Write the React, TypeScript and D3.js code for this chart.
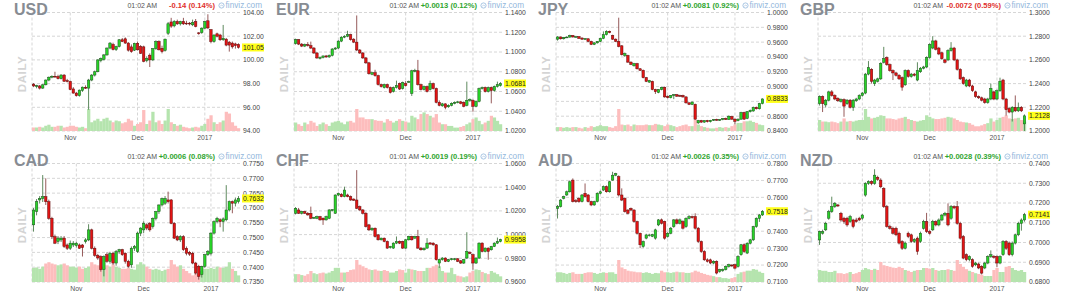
import React from "react";
import * as d3 from "d3";

type Bar = [number, number, number, number]; // open, high, low, close

const usdBars: Bar[] = [
  [97.95,98.05,97.70,97.80],[97.75,97.90,97.60,97.82],[97.80,97.88,97.50,97.62],[97.62,97.95,97.55,97.90],
  [97.90,98.35,97.85,98.30],[98.30,98.60,98.20,98.54],[98.54,98.70,98.45,98.62],[98.62,99.00,98.50,98.58],
  [98.60,98.75,98.35,98.42],[98.42,98.80,98.35,98.72],[98.72,98.80,98.15,98.20],[98.25,98.40,98.10,98.18],
  [98.18,98.25,97.45,97.50],[97.55,97.70,97.15,97.20],[97.20,97.30,96.90,96.98],[96.98,97.50,96.90,97.45],
  [97.42,97.75,97.30,97.70],[97.68,97.85,97.55,97.62],[97.62,98.40,95.80,98.30],[98.30,98.80,98.20,98.72],
  [98.72,99.10,98.60,99.00],[99.00,100.05,98.95,100.00],[99.95,100.20,99.80,100.12],[100.05,100.50,99.95,100.42],
  [100.42,101.05,100.35,101.00],[101.00,101.50,100.90,101.42],[101.30,101.45,100.80,100.88],[100.88,101.20,100.75,101.13],
  [101.13,101.75,101.05,101.70],[101.70,101.85,101.50,101.55],[101.78,101.90,101.35,101.42],[101.42,101.50,100.70,100.82],
  [101.10,101.30,100.60,100.70],[100.82,101.45,100.75,101.40],[101.40,101.55,100.80,100.85],[101.12,101.25,100.50,100.56],
  [101.10,101.20,99.80,99.88],[99.95,100.30,99.80,100.12],[100.40,100.55,99.40,100.00],[100.00,101.00,99.90,100.95],
  [100.95,101.65,100.85,101.55],[101.55,101.65,100.80,100.85],[100.98,101.20,100.55,100.70],[100.80,101.80,100.70,101.75],
  [102.25,103.20,102.10,103.05],[103.20,103.55,102.70,102.85],[102.87,103.35,102.75,103.24],[103.24,103.40,102.95,103.04],
  [103.04,103.30,102.90,103.24],[103.24,103.55,102.95,103.04],[103.10,103.30,102.95,103.04],[103.10,103.20,102.90,103.04],
  [102.96,103.40,102.85,103.15],[103.24,103.45,102.75,102.82],[102.28,102.35,102.12,102.22],[102.30,102.75,102.20,102.68],
  [102.68,103.30,102.60,103.24],[103.30,103.85,102.60,102.70],[102.55,102.60,101.40,101.55],[101.55,102.15,101.45,102.10],
  [102.20,102.30,101.90,102.00],[102.10,102.20,101.60,101.70],[101.70,102.95,101.60,101.83],[101.75,101.85,101.15,101.25],
  [101.50,101.60,100.70,101.25],[101.42,101.55,100.95,101.10],[101.35,101.45,100.95,101.20],[101.30,101.40,100.95,101.05],
];
const usdVolume = [10,10,12,10,15,18,12,12,15,15,10,12,15,15,12,10,12,8,63,25,30,35,28,35,38,30,25,30,28,22,25,35,30,15,20,25,60,20,30,55,25,30,20,30,63,25,20,15,18,12,10,8,10,12,10,15,20,35,45,25,20,25,30,55,50,25,15,8];

const eurBars: Bar[] = [
  [1.1085,1.1135,1.1075,1.1125],[1.1125,1.1130,1.1070,1.1080],[1.1080,1.1090,1.1050,1.1060],[1.1060,1.1085,1.1050,1.1075],
  [1.1075,1.1100,1.1055,1.1065],[1.1065,1.1105,1.1030,1.1040],[1.1040,1.1050,1.0980,1.0990],[1.0990,1.1000,1.0930,1.0940],
  [1.0935,1.0955,1.0925,1.0945],[1.0945,1.0965,1.0935,1.0960],[1.0960,1.0970,1.0940,1.0950],[1.0950,1.0975,1.0940,1.0965],
  [1.0965,1.1040,1.0955,1.1030],[1.1030,1.1050,1.1020,1.1040],[1.1040,1.1120,1.1030,1.1110],[1.1110,1.1160,1.1100,1.1150],
  [1.1150,1.1170,1.1140,1.1160],[1.1160,1.1215,1.1150,1.1175],[1.1175,1.1185,1.1115,1.1125],[1.1130,1.1140,1.1090,1.1100],
  [1.1100,1.1370,1.1010,1.1020],[1.1020,1.1030,1.0980,1.0990],[1.0990,1.1000,1.0930,1.0940],[1.0940,1.0950,1.0880,1.0890],
  [1.0890,1.0900,1.0770,1.0780],[1.0775,1.0800,1.0765,1.0790],[1.0790,1.0820,1.0750,1.0760],[1.0760,1.0770,1.0660,1.0670],
  [1.0670,1.0680,1.0640,1.0650],[1.0640,1.0680,1.0630,1.0670],[1.0670,1.0680,1.0630,1.0640],[1.0640,1.0650,1.0580,1.0590],
  [1.0600,1.0650,1.0590,1.0640],[1.0640,1.0710,1.0630,1.0660],[1.0680,1.0690,1.0615,1.0625],[1.0630,1.0700,1.0620,1.0690],
  [1.0680,1.0705,1.0650,1.0660],[1.0695,1.0710,1.0690,1.0700],[1.0580,1.0820,1.0555,1.0810],[1.0805,1.0830,1.0795,1.0815],
  [1.0810,1.0920,1.0660,1.0670],[1.0670,1.0680,1.0610,1.0620],[1.0620,1.0660,1.0610,1.0650],[1.0650,1.0660,1.0590,1.0600],
  [1.0620,1.0710,1.0610,1.0680],[1.0680,1.0690,1.0620,1.0630],[1.0630,1.0640,1.0480,1.0490],[1.0490,1.0510,1.0450,1.0460],
  [1.0455,1.0485,1.0445,1.0475],[1.0475,1.0480,1.0420,1.0440],[1.0445,1.0470,1.0435,1.0460],[1.0460,1.0490,1.0450,1.0480],
  [1.0480,1.0500,1.0470,1.0490],[1.0490,1.0505,1.0480,1.0495],[1.0495,1.0505,1.0470,1.0480],[1.0490,1.0500,1.0440,1.0450],
  [1.0460,1.0700,1.0450,1.0510],[1.0510,1.0530,1.0495,1.0520],[1.0510,1.0520,1.0395,1.0450],[1.0450,1.0510,1.0440,1.0500],
  [1.0500,1.0640,1.0490,1.0630],[1.0630,1.0650,1.0620,1.0640],[1.0640,1.0650,1.0590,1.0600],[1.0600,1.0650,1.0590,1.0640],
  [1.0640,1.0650,1.0480,1.0610],[1.0610,1.0660,1.0600,1.0650],[1.0650,1.0700,1.0640,1.0670],[1.0660,1.0695,1.0650,1.0681],
];
const eurVolume = [25,20,15,25,20,30,25,15,20,25,20,15,25,28,30,25,20,28,30,25,65,40,40,35,35,35,32,30,30,25,35,30,25,30,35,30,28,25,45,40,35,50,55,50,45,40,50,25,20,20,15,15,10,10,12,15,20,25,35,40,30,20,25,30,45,40,30,20];

const jpyBars: Bar[] = [
  [0.9640,0.9680,0.9620,0.9670],[0.9670,0.9675,0.9635,0.9645],[0.9645,0.9670,0.9635,0.9665],[0.9665,0.9680,0.9655,0.9668],
  [0.9668,0.9700,0.9660,0.9690],[0.9690,0.9695,0.9660,0.9670],[0.9670,0.9685,0.9660,0.9675],[0.9675,0.9680,0.9645,0.9650],
  [0.9655,0.9665,0.9630,0.9640],[0.9640,0.9655,0.9630,0.9648],[0.9645,0.9650,0.9600,0.9610],[0.9610,0.9620,0.9560,0.9570],
  [0.9570,0.9600,0.9560,0.9590],[0.9590,0.9615,0.9580,0.9610],[0.9610,0.9660,0.9600,0.9650],[0.9650,0.9745,0.9640,0.9700],
  [0.9700,0.9760,0.9690,0.9745],[0.9745,0.9755,0.9720,0.9730],[0.9690,0.9700,0.9630,0.9640],[0.9640,0.9650,0.9600,0.9610],
  [0.9610,0.9930,0.9530,0.9540],[0.9550,0.9560,0.9420,0.9430],[0.9420,0.9460,0.9400,0.9445],[0.9420,0.9430,0.9320,0.9330],
  [0.9330,0.9340,0.9290,0.9300],[0.9280,0.9320,0.9270,0.9310],[0.9310,0.9320,0.9230,0.9240],[0.9240,0.9250,0.9210,0.9220],
  [0.9220,0.9230,0.9110,0.9120],[0.9120,0.9130,0.9060,0.9070],[0.9060,0.9090,0.9050,0.9080],[0.9070,0.9080,0.8950,0.8960],
  [0.8960,0.8970,0.8900,0.8930],[0.8920,0.8965,0.8910,0.8960],[0.8960,0.8995,0.8950,0.8990],[0.8990,0.9000,0.8850,0.8860],
  [0.8870,0.8880,0.8840,0.8850],[0.8850,0.8885,0.8840,0.8880],[0.8880,0.8900,0.8830,0.8890],[0.8890,0.8900,0.8860,0.8870],
  [0.8880,0.8890,0.8860,0.8870],[0.8880,0.8890,0.8850,0.8860],[0.8860,0.8870,0.8770,0.8780],[0.8780,0.8790,0.8750,0.8760],
  [0.8760,0.8800,0.8750,0.8790],[0.8760,0.8770,0.8550,0.8560],[0.8510,0.8550,0.8495,0.8540],[0.8540,0.8550,0.8510,0.8520],
  [0.8520,0.8545,0.8510,0.8540],[0.8540,0.8550,0.8515,0.8525],[0.8525,0.8550,0.8515,0.8545],[0.8545,0.8560,0.8535,0.8555],
  [0.8555,0.8565,0.8540,0.8545],[0.8545,0.8560,0.8535,0.8555],[0.8555,0.8575,0.8545,0.8570],[0.8570,0.8580,0.8550,0.8555],
  [0.8555,0.8610,0.8550,0.8600],[0.8595,0.8605,0.8550,0.8560],[0.8560,0.8570,0.8490,0.8530],[0.8540,0.8570,0.8530,0.8560],
  [0.8560,0.8660,0.8550,0.8650],[0.8650,0.8660,0.8550,0.8560],[0.8570,0.8670,0.8560,0.8660],[0.8660,0.8690,0.8650,0.8680],
  [0.8670,0.8730,0.8660,0.8720],[0.8720,0.8730,0.8690,0.8700],[0.8700,0.8780,0.8690,0.8770],[0.8770,0.8840,0.8760,0.8833],
];
const jpyVolume = [12,12,10,12,10,12,12,10,8,12,10,15,12,15,18,15,15,12,10,15,68,20,18,20,15,20,18,18,18,20,18,18,22,20,18,15,20,18,15,12,15,18,20,15,15,35,20,15,12,10,8,8,10,12,10,12,10,15,20,25,25,30,30,32,28,25,20,18];

const gbpBars: Bar[] = [
  [1.2230,1.2300,1.2215,1.2290],[1.2290,1.2300,1.2160,1.2230],[1.2220,1.2270,1.2200,1.2260],[1.2260,1.2340,1.2250,1.2330],
  [1.2330,1.2345,1.2290,1.2300],[1.2300,1.2310,1.2260,1.2270],[1.2275,1.2285,1.2245,1.2255],[1.2250,1.2275,1.2240,1.2265],
  [1.2265,1.2275,1.2120,1.2210],[1.2230,1.2270,1.2220,1.2260],[1.2260,1.2270,1.2190,1.2200],[1.2200,1.2270,1.2170,1.2260],
  [1.2255,1.2280,1.2245,1.2270],[1.2270,1.2310,1.2260,1.2300],[1.2300,1.2330,1.2290,1.2320],[1.2320,1.2490,1.2310,1.2480],
  [1.2480,1.2590,1.2470,1.2535],[1.2520,1.2530,1.2400,1.2420],[1.2400,1.2440,1.2380,1.2430],[1.2420,1.2450,1.2410,1.2440],
  [1.2440,1.2580,1.2430,1.2570],[1.2580,1.2710,1.2570,1.2610],[1.2620,1.2630,1.2550,1.2560],[1.2560,1.2570,1.2500,1.2510],
  [1.2510,1.2520,1.2430,1.2490],[1.2490,1.2500,1.2460,1.2470],[1.2470,1.2480,1.2430,1.2440],[1.2450,1.2460,1.2340,1.2370],
  [1.2390,1.2520,1.2380,1.2510],[1.2510,1.2520,1.2450,1.2460],[1.2460,1.2490,1.2450,1.2480],[1.2480,1.2490,1.2460,1.2470],
  [1.2430,1.2580,1.2420,1.2510],[1.2500,1.2540,1.2490,1.2530],[1.2530,1.2550,1.2520,1.2540],[1.2540,1.2630,1.2530,1.2620],
  [1.2620,1.2740,1.2610,1.2730],[1.2700,1.2800,1.2690,1.2760],[1.2760,1.2770,1.2680,1.2690],[1.2700,1.2710,1.2640,1.2650],
  [1.2660,1.2670,1.2600,1.2610],[1.2600,1.2610,1.2570,1.2580],[1.2600,1.2690,1.2590,1.2680],[1.2680,1.2750,1.2670,1.2700],
  [1.2700,1.2710,1.2590,1.2600],[1.2600,1.2610,1.2510,1.2520],[1.2520,1.2530,1.2430,1.2440],[1.2450,1.2460,1.2390,1.2400],
  [1.2380,1.2440,1.2370,1.2430],[1.2430,1.2440,1.2370,1.2380],[1.2380,1.2390,1.2330,1.2340],[1.2330,1.2340,1.2280,1.2290],
  [1.2290,1.2300,1.2270,1.2280],[1.2280,1.2290,1.2250,1.2260],[1.2270,1.2280,1.2230,1.2240],[1.2240,1.2280,1.2230,1.2270],
  [1.2270,1.2400,1.2260,1.2360],[1.2330,1.2340,1.2260,1.2270],[1.2270,1.2350,1.2260,1.2340],[1.2340,1.2450,1.2330,1.2420],
  [1.2430,1.2440,1.2260,1.2270],[1.2270,1.2280,1.2130,1.2180],[1.2190,1.2200,1.2150,1.2160],[1.2160,1.2210,1.2080,1.2200],
  [1.2200,1.2300,1.2160,1.2170],[1.2170,1.2240,1.2160,1.2200],[1.2200,1.2210,1.2160,1.2170],[1.2060,1.2140,1.2000,1.2128],
];
const gbpVolume = [35,30,30,28,30,28,25,30,40,30,32,30,33,35,35,70,45,40,42,45,50,48,40,40,38,36,40,42,45,38,35,32,30,33,35,50,45,40,38,38,40,42,45,43,40,35,30,28,27,25,20,15,15,18,22,25,40,30,35,42,45,50,40,38,40,42,35,30];

const cadBars: Bar[] = [
  [0.7543,0.7600,0.7520,0.7593],[0.7588,0.7630,0.7575,0.7621],[0.7627,0.7640,0.7615,0.7632],[0.7632,0.7711,0.7620,0.7638],
  [0.7638,0.7700,0.7610,0.7621],[0.7621,0.7628,0.7560,0.7565],[0.7565,0.7570,0.7495,0.7503],[0.7503,0.7510,0.7478,0.7481],
  [0.7487,0.7505,0.7478,0.7498],[0.7492,0.7505,0.7485,0.7498],[0.7498,0.7505,0.7465,0.7470],[0.7475,0.7480,0.7458,0.7464],
  [0.7464,0.7490,0.7458,0.7481],[0.7475,0.7488,0.7468,0.7481],[0.7473,0.7486,0.7466,0.7481],[0.7475,0.7480,0.7462,0.7464],
  [0.7475,0.7478,0.7436,0.7466],[0.7487,0.7498,0.7480,0.7492],[0.7492,0.7545,0.7488,0.7526],[0.7526,0.7530,0.7460,0.7464],
  [0.7464,0.7470,0.7435,0.7440],[0.7440,0.7445,0.7425,0.7431],[0.7436,0.7440,0.7385,0.7392],[0.7392,0.7440,0.7369,0.7436],
  [0.7442,0.7450,0.7415,0.7420],[0.7420,0.7452,0.7412,0.7447],[0.7447,0.7452,0.7408,0.7414],[0.7414,0.7458,0.7405,0.7453],
  [0.7453,0.7462,0.7445,0.7459],[0.7459,0.7462,0.7438,0.7442],[0.7447,0.7450,0.7412,0.7420],[0.7420,0.7425,0.7398,0.7403],
  [0.7408,0.7470,0.7398,0.7464],[0.7464,0.7475,0.7455,0.7470],[0.7453,0.7520,0.7448,0.7515],[0.7515,0.7535,0.7505,0.7532],
  [0.7526,0.7555,0.7515,0.7548],[0.7543,0.7548,0.7525,0.7532],[0.7548,0.7552,0.7520,0.7526],[0.7537,0.7568,0.7530,0.7565],
  [0.7565,0.7590,0.7558,0.7588],[0.7588,0.7612,0.7580,0.7610],[0.7610,0.7635,0.7605,0.7632],[0.7616,0.7640,0.7610,0.7632],
  [0.7627,0.7655,0.7615,0.7621],[0.7627,0.7630,0.7545,0.7548],[0.7548,0.7552,0.7495,0.7498],[0.7503,0.7508,0.7488,0.7492],
  [0.7492,0.7508,0.7485,0.7503],[0.7503,0.7508,0.7455,0.7459],[0.7464,0.7470,0.7440,0.7447],[0.7450,0.7455,0.7438,0.7444],
  [0.7447,0.7452,0.7410,0.7414],[0.7414,0.7418,0.7375,0.7380],[0.7403,0.7408,0.7358,0.7369],[0.7375,0.7405,0.7365,0.7403],
  [0.7403,0.7445,0.7398,0.7442],[0.7442,0.7458,0.7438,0.7453],[0.7447,0.7518,0.7440,0.7515],[0.7515,0.7558,0.7510,0.7554],
  [0.7554,0.7570,0.7548,0.7565],[0.7560,0.7565,0.7535,0.7554],[0.7554,0.7568,0.7520,0.7563],[0.7560,0.7677,0.7555,0.7593],
  [0.7593,0.7625,0.7588,0.7621],[0.7621,0.7625,0.7582,0.7616],[0.7616,0.7635,0.7605,0.7627],[0.7621,0.7640,0.7615,0.7632],
];
const cadVolume = [32,33,30,35,42,45,42,40,38,40,42,38,35,35,33,35,30,32,35,45,40,38,35,33,38,35,40,35,32,30,30,32,30,28,40,45,40,35,30,28,30,28,25,28,30,50,40,35,38,30,25,20,15,18,20,25,30,30,32,30,35,33,32,35,45,30,25,15];

const chfBars: Bar[] = [
  [1.0180,1.0232,1.0170,1.0222],[1.0208,1.0225,1.0175,1.0180],[1.0180,1.0200,1.0170,1.0194],[1.0194,1.0200,1.0175,1.0180],
  [1.0180,1.0190,1.0160,1.0166],[1.0180,1.0236,1.0130,1.0138],[1.0140,1.0150,1.0132,1.0145],[1.0138,1.0160,1.0130,1.0152],
  [1.0152,1.0158,1.0118,1.0124],[1.0138,1.0145,1.0082,1.0124],[1.0124,1.0160,1.0118,1.0152],[1.0138,1.0215,1.0130,1.0208],
  [1.0208,1.0215,1.0195,1.0210],[1.0180,1.0340,1.0175,1.0334],[1.0334,1.0355,1.0325,1.0348],[1.0340,1.0350,1.0315,1.0320],
  [1.0320,1.0404,1.0315,1.0376],[1.0334,1.0345,1.0315,1.0320],[1.0320,1.0330,1.0285,1.0292],[1.0300,1.0305,1.0285,1.0290],
  [1.0292,1.0544,1.0215,1.0222],[1.0236,1.0245,1.0200,1.0208],[1.0208,1.0215,1.0170,1.0180],[1.0180,1.0190,1.0060,1.0068],
  [1.0082,1.0090,1.0030,1.0040],[1.0040,1.0060,1.0030,1.0054],[1.0054,1.0060,0.9975,0.9984],[0.9998,1.0005,0.9950,0.9956],
  [0.9956,0.9975,0.9950,0.9970],[0.9970,0.9975,0.9935,0.9942],[0.9942,0.9950,0.9880,0.9886],[0.9890,0.9905,0.9882,0.9900],
  [0.9886,0.9935,0.9880,0.9928],[0.9928,0.9984,0.9920,0.9942],[0.9942,0.9950,0.9920,0.9928],[0.9942,0.9948,0.9880,0.9886],
  [0.9886,0.9962,0.9880,0.9956],[0.9956,0.9990,0.9950,0.9984],[0.9984,0.9990,0.9950,0.9956],[0.9970,0.9990,0.9965,0.9984],
  [0.9984,1.0040,0.9880,0.9886],[0.9886,0.9895,0.9865,0.9872],[0.9872,0.9890,0.9865,0.9886],[0.9886,0.9970,0.9880,0.9928],
  [0.9930,0.9935,0.9915,0.9920],[0.9928,0.9935,0.9905,0.9914],[0.9914,0.9920,0.9780,0.9788],[0.9760,0.9795,0.9718,0.9788],
  [0.9788,0.9810,0.9780,0.9802],[0.9802,0.9808,0.9768,0.9774],[0.9774,0.9795,0.9768,0.9788],[0.9788,0.9802,0.9782,0.9796],
  [0.9788,0.9802,0.9782,0.9796],[0.9796,0.9800,0.9768,0.9774],[0.9779,0.9785,0.9752,0.9760],[0.9760,0.9795,0.9752,0.9788],
  [0.9802,1.0020,0.9795,0.9858],[0.9850,0.9860,0.9835,0.9840],[0.9830,0.9840,0.9704,0.9760],[0.9760,0.9808,0.9752,0.9802],
  [0.9802,0.9935,0.9795,0.9928],[0.9928,0.9935,0.9850,0.9858],[0.9858,0.9892,0.9850,0.9886],[0.9886,0.9892,0.9788,0.9858],
  [0.9872,0.9905,0.9865,0.9900],[0.9900,0.9935,0.9895,0.9928],[0.9928,0.9975,0.9920,0.9942],[0.9942,0.9965,0.9935,0.9958],
];
const chfVolume = [25,25,22,20,25,35,28,25,28,30,27,30,35,45,45,30,30,32,38,40,70,55,50,45,40,38,40,36,35,38,35,30,30,35,40,38,30,42,40,38,35,35,35,45,45,50,55,50,35,30,30,45,25,20,18,15,18,30,35,40,38,32,28,25,35,30,25,18];

const audBars: Bar[] = [
  [0.7535,0.7555,0.7475,0.7545],[0.7545,0.7590,0.7540,0.7584],[0.7594,0.7610,0.7588,0.7604],[0.7614,0.7640,0.7608,0.7633],
  [0.7633,0.7700,0.7628,0.7692],[0.7702,0.7712,0.7570,0.7575],[0.7580,0.7590,0.7568,0.7575],[0.7594,0.7600,0.7568,0.7575],
  [0.7575,0.7620,0.7570,0.7614],[0.7624,0.7682,0.7598,0.7604],[0.7614,0.7620,0.7570,0.7575],[0.7575,0.7580,0.7548,0.7555],
  [0.7555,0.7580,0.7550,0.7575],[0.7575,0.7630,0.7570,0.7624],[0.7624,0.7640,0.7618,0.7633],[0.7643,0.7670,0.7638,0.7663],
  [0.7663,0.7670,0.7628,0.7633],[0.7633,0.7698,0.7628,0.7692],[0.7702,0.7751,0.7698,0.7731],[0.7731,0.7745,0.7725,0.7740],
  [0.7722,0.7730,0.7605,0.7614],[0.7614,0.7653,0.7578,0.7584],[0.7594,0.7600,0.7510,0.7516],[0.7525,0.7530,0.7500,0.7506],
  [0.7535,0.7540,0.7518,0.7525],[0.7525,0.7530,0.7450,0.7457],[0.7457,0.7462,0.7380,0.7388],[0.7388,0.7392,0.7300,0.7320],
  [0.7310,0.7345,0.7302,0.7339],[0.7359,0.7385,0.7352,0.7378],[0.7374,0.7385,0.7368,0.7378],[0.7370,0.7385,0.7365,0.7380],
  [0.7359,0.7415,0.7350,0.7408],[0.7437,0.7472,0.7430,0.7467],[0.7467,0.7475,0.7440,0.7447],[0.7457,0.7462,0.7350,0.7359],
  [0.7369,0.7395,0.7362,0.7388],[0.7388,0.7425,0.7382,0.7418],[0.7427,0.7472,0.7420,0.7467],[0.7467,0.7475,0.7440,0.7447],
  [0.7447,0.7475,0.7440,0.7467],[0.7457,0.7465,0.7410,0.7418],[0.7427,0.7482,0.7420,0.7476],[0.7476,0.7495,0.7470,0.7486],
  [0.7486,0.7492,0.7474,0.7480],[0.7486,0.7506,0.7410,0.7418],[0.7418,0.7425,0.7330,0.7339],[0.7339,0.7345,0.7272,0.7280],
  [0.7280,0.7288,0.7225,0.7231],[0.7231,0.7240,0.7215,0.7222],[0.7231,0.7238,0.7205,0.7212],[0.7212,0.7228,0.7205,0.7222],
  [0.7222,0.7228,0.7145,0.7153],[0.7163,0.7178,0.7155,0.7173],[0.7167,0.7180,0.7160,0.7173],[0.7173,0.7198,0.7168,0.7192],
  [0.7192,0.7208,0.7185,0.7202],[0.7200,0.7205,0.7188,0.7195],[0.7202,0.7208,0.7175,0.7182],[0.7192,0.7258,0.7185,0.7251],
  [0.7261,0.7325,0.7255,0.7320],[0.7320,0.7328,0.7272,0.7280],[0.7271,0.7335,0.7265,0.7329],[0.7329,0.7355,0.7322,0.7349],
  [0.7349,0.7432,0.7342,0.7427],[0.7427,0.7482,0.7420,0.7476],[0.7476,0.7502,0.7455,0.7496],[0.7496,0.7525,0.7490,0.7518],
];
const audVolume = [30,30,28,25,28,30,25,25,25,28,30,30,28,25,28,30,28,30,30,25,68,45,40,35,33,32,30,30,28,30,28,25,28,27,35,30,30,28,30,32,30,30,28,28,30,35,32,28,25,22,20,18,15,15,12,12,10,12,15,25,30,32,35,35,40,38,32,28];

const nzdBars: Bar[] = [
  [0.7013,0.7060,0.6988,0.7055],[0.7047,0.7065,0.7040,0.7055],[0.7064,0.7105,0.7058,0.7097],[0.7123,0.7165,0.7115,0.7156],
  [0.7156,0.7232,0.7150,0.7182],[0.7182,0.7205,0.7175,0.7198],[0.7190,0.7195,0.7180,0.7185],[0.7148,0.7155,0.7105,0.7114],
  [0.7123,0.7130,0.7095,0.7106],[0.7123,0.7130,0.7080,0.7089],[0.7106,0.7140,0.7100,0.7131],[0.7114,0.7120,0.7072,0.7081],
  [0.7114,0.7125,0.7100,0.7106],[0.7123,0.7130,0.7108,0.7114],[0.7123,0.7145,0.7115,0.7139],[0.7240,0.7305,0.7232,0.7299],
  [0.7299,0.7315,0.7292,0.7308],[0.7308,0.7315,0.7290,0.7299],[0.7299,0.7371,0.7292,0.7341],[0.7330,0.7338,0.7312,0.7320],
  [0.7316,0.7325,0.7275,0.7282],[0.7274,0.7280,0.7175,0.7182],[0.7182,0.7190,0.7075,0.7081],[0.7081,0.7090,0.7065,0.7072],
  [0.7072,0.7080,0.7040,0.7047],[0.7072,0.7080,0.7032,0.7039],[0.7047,0.7055,0.6990,0.6997],[0.7005,0.7012,0.6962,0.6971],
  [0.6971,0.7005,0.6965,0.6997],[0.7047,0.7055,0.7022,0.7030],[0.7039,0.7045,0.6998,0.7005],[0.7005,0.7022,0.6998,0.7015],
  [0.7022,0.7030,0.6938,0.6955],[0.7005,0.7055,0.6998,0.7047],[0.7072,0.7115,0.7065,0.7106],[0.7106,0.7150,0.7048,0.7055],
  [0.7055,0.7062,0.7040,0.7047],[0.7064,0.7115,0.7058,0.7106],[0.7106,0.7112,0.7082,0.7089],[0.7089,0.7122,0.7082,0.7114],
  [0.7114,0.7145,0.7108,0.7139],[0.7139,0.7155,0.7132,0.7148],[0.7148,0.7198,0.7082,0.7089],[0.7123,0.7190,0.7115,0.7182],
  [0.7182,0.7188,0.7168,0.7175],[0.7182,0.7210,0.7090,0.7097],[0.7097,0.7105,0.7015,0.7022],[0.7030,0.7038,0.6915,0.6921],
  [0.6938,0.6945,0.6905,0.6913],[0.6913,0.6935,0.6905,0.6929],[0.6913,0.6920,0.6872,0.6879],[0.6887,0.6902,0.6880,0.6896],
  [0.6891,0.6898,0.6865,0.6871],[0.6879,0.6885,0.6838,0.6845],[0.6871,0.6902,0.6865,0.6896],[0.6896,0.6935,0.6890,0.6929],
  [0.6929,0.6960,0.6922,0.6938],[0.6930,0.6936,0.6918,0.6925],[0.6929,0.6935,0.6875,0.6896],[0.6896,0.6935,0.6890,0.6929],
  [0.6938,0.7012,0.6932,0.7005],[0.7005,0.7012,0.6962,0.6971],[0.6997,0.7005,0.6932,0.6938],[0.6938,0.7005,0.6930,0.6997],
  [0.6997,0.7045,0.6990,0.7039],[0.7039,0.7105,0.7032,0.7097],[0.7097,0.7122,0.7060,0.7114],[0.7114,0.7150,0.7105,0.7141],
];
const nzdVolume = [30,28,28,25,25,28,22,22,20,22,25,20,22,25,30,35,32,30,33,30,50,42,40,38,36,35,38,35,30,28,25,28,30,30,35,35,33,35,30,28,30,30,32,30,28,55,45,38,32,28,25,22,20,18,15,15,15,30,35,25,25,38,40,35,30,28,30,25];

// y-axis tick labels
const usdTicks = [94, 96, 98, 100, 102, 104];
const eurTicks = [1.02, 1.04, 1.06, 1.08, 1.10, 1.12, 1.14];
const jpyTicks = [0.84, 0.86, 0.88, 0.90, 0.92, 0.94, 0.96, 0.98, 1.0];
const gbpTicks = [1.20, 1.22, 1.24, 1.26, 1.28, 1.30];
const cadTicks = [0.735, 0.74, 0.745, 0.75, 0.755, 0.76, 0.765, 0.77, 0.775];
const chfTicks = [0.96, 0.98, 1.0, 1.02, 1.04, 1.06];
const audTicks = [0.71, 0.72, 0.73, 0.74, 0.75, 0.76, 0.77, 0.78];
const nzdTicks = [0.68, 0.69, 0.70, 0.71, 0.72, 0.73, 0.74];

// x-axis month labels and the bar index where each month begins
const monthLabels = ["Nov", "Dec", "2017"];
const usdMonthStarts = [12, 34, 56];
const fxMonthStarts = [14, 36, 58];

const symbols = ["USD", "EUR", "JPY", "GBP", "CAD", "CHF", "AUD", "NZD"];
const quoteTimes = ["01:02 AM", "01:02 AM", "01:02 AM", "01:02 AM", "01:02 AM", "01:01 AM", "01:02 AM", "01:02 AM"];
const changeTexts = ["-0.14 (0.14%)", "+0.0013 (0.12%)", "+0.0081 (0.92%)", "-0.0072 (0.59%)", "+0.0006 (0.08%)", "+0.0019 (0.19%)", "+0.0026 (0.35%)", "+0.0028 (0.39%)"];
const decimals = [2, 4, 4, 4, 4, 4, 4, 4];

const barSets = [usdBars, eurBars, jpyBars, gbpBars, cadBars, chfBars, audBars, nzdBars];
const volumeSets = [usdVolume, eurVolume, jpyVolume, gbpVolume, cadVolume, chfVolume, audVolume, nzdVolume];
const tickSets = [usdTicks, eurTicks, jpyTicks, gbpTicks, cadTicks, chfTicks, audTicks, nzdTicks];
const monthStartSets = [usdMonthStarts, fxMonthStarts, fxMonthStarts, fxMonthStarts, fxMonthStarts, fxMonthStarts, fxMonthStarts, fxMonthStarts];

const W = 1087;
const H = 296;
const PANEL_W = 262;
const PANEL_H = 151;
const FONT = "'Liberation Sans', Arial, Helvetica, sans-serif";

const UP_FILL = "#27d427";
const UP_STROKE = "#1b4d1b";
const DOWN_FILL = "#e31414";
const DOWN_STROKE = "#5e0a0a";
const UP_WICK = "#4d7d4d";
const DOWN_WICK = "#8a4747";
const UP_VOL = "#b5e4ae";
const DOWN_VOL = "#fdbdbd";
const GRID = "#d6d6d6";

function Panel({ idx }: { idx: number }) {
  const col = idx % 4;
  const row = Math.floor(idx / 4);
  const x0 = col * PANEL_W;
  const y0 = row * PANEL_H;
  const left = x0 + 32;
  const right = left + 208;
  const top = y0 + 12.5;
  const bottom = y0 + 131;

  const bars = barSets[idx];
  const vols = volumeSets[idx];
  const ticks = tickSets[idx];
  const months = monthStartSets[idx];
  const fmt = d3.format(`.${decimals[idx]}f`);

  const x = d3.scaleBand<number>().domain(d3.range(bars.length)).range([left, right]).paddingInner(0.2).paddingOuter(0.1);
  const step = x.step();
  const bw = x.bandwidth();
  const cx = (i: number) => (x(i) as number) + bw / 2;
  const y = d3.scaleLinear().domain([d3.min(ticks) as number, d3.max(ticks) as number]).range([bottom, top]);
  const v = d3.scaleLinear().domain([0, d3.max(vols) as number]).range([0, 22]);

  const last = bars[bars.length - 1][3];
  const lastY = y(last);
  const change = changeTexts[idx];
  const changeColor = change.startsWith("-") ? "#e0302c" : "#2fa52f";
  // tick labels hidden behind the last-price marker
  const visibleTicks = ticks.filter((t) => Math.abs(y(t) - lastY) >= 4.5);

  return (
    <g>
      {/* grid */}
      {ticks.map((t) => (
        <line key={`h${t}`} x1={left} x2={right} y1={y(t)} y2={y(t)} stroke={GRID} strokeWidth={1} strokeDasharray="3,2" />
      ))}
      <line x1={left} x2={left} y1={top} y2={bottom} stroke={GRID} strokeDasharray="3,2" />
      {months.map((m) => (
        <line key={`v${m}`} x1={cx(m)} x2={cx(m)} y1={top} y2={bottom} stroke={GRID} strokeDasharray="3,2" />
      ))}

      {/* volume */}
      {vols.map((vol, i) => {
        const b = bars[i];
        const up = b[3] >= b[0];
        const h = v(vol);
        return (
          <rect key={`vol${i}`} x={cx(i) - step / 2} y={bottom - h} width={step + 0.2} height={h} fill={up ? UP_VOL : DOWN_VOL} />
        );
      })}

      {/* candles */}
      {bars.map((b, i) => {
        const [o, hi, lo, c] = b;
        const up = c >= o;
        const yTop = y(Math.max(o, c));
        const yBot = y(Math.min(o, c));
        const bh = Math.max(0.8, yBot - yTop);
        return (
          <g key={`c${i}`}>
            <line x1={cx(i)} x2={cx(i)} y1={y(hi)} y2={y(lo)} stroke={up ? UP_WICK : DOWN_WICK} strokeWidth={0.9} />
            <rect x={x(i) as number} y={yTop} width={bw} height={bh} fill={up ? UP_FILL : DOWN_FILL} stroke={up ? UP_STROKE : DOWN_STROKE} strokeWidth={0.5} />
          </g>
        );
      })}

      {/* y labels */}
      {visibleTicks.map((t) => (
        <text key={`yl${t}`} x={right + 3} y={y(t)} dy="0.35em" fontSize={6.8} fill="#444" fontFamily={FONT}>
          {fmt(t)}
        </text>
      ))}
      <rect x={right + 2} y={lastY - 4} width={22} height={8} fill="#ffff1a" />
      <text x={right + 3} y={lastY} dy="0.35em" fontSize={6.8} fill="#222" fontFamily={FONT}>
        {fmt(last)}
      </text>

      {/* x labels */}
      {months.map((m, k) => (
        <text key={`xl${m}`} x={cx(m)} y={bottom + 6.5} dy="0.35em" textAnchor="middle" fontSize={6.8} fill="#555" fontFamily={FONT}>
          {monthLabels[k]}
        </text>
      ))}

      {/* title and header */}
      <text x={x0 + 14} y={y0 + 15} fontSize={16} fontWeight="bold" fill="#878c93" fontFamily={FONT}>
        {symbols[idx]}
      </text>
      <text transform={`translate(${left - 10},${y0 + 74}) rotate(-90)`} textAnchor="middle" dy="0.35em" fontSize={11.5} fontWeight="bold" fill="#d4d4d4" fontFamily={FONT} letterSpacing={0.6}>
        DAILY
      </text>
      <text x={right - 83} y={y0 + 5.5} dy="0.35em" textAnchor="end" fontSize={7} fill="#555" fontFamily={FONT}>
        {quoteTimes[idx]}
      </text>
      <text x={right - 25} y={y0 + 5.5} dy="0.35em" textAnchor="end" fontSize={7.6} fontWeight="bold" fill={changeColor} fontFamily={FONT}>
        {change}
      </text>
      <circle cx={right - 18.5} cy={y0 + 5.5} r={2.6} fill="none" stroke="#93b7dc" strokeWidth={0.8} />
      <path d={`M${right - 20} ${y0 + 6.5} L${right - 18.5} ${y0 + 5} L${right - 17} ${y0 + 6}`} fill="none" stroke="#93b7dc" strokeWidth={0.6} />
      <text x={right + 22} y={y0 + 5.5} dy="0.35em" textAnchor="end" fontSize={8.2} fill="#93b7dc" fontFamily={FONT}>
        finviz.com
      </text>
    </g>
  );
}

export default function App() {
  return (
    <div style={{ position: "absolute", left: 0, top: 0, width: W, height: H, background: "#fff" }}>
      <svg width={W} height={H} viewBox={`0 0 ${W} ${H}`} style={{ display: "block" }}>
        <rect x={0} y={0} width={W} height={H} fill="#fff" />
        {symbols.map((s, i) => (
          <Panel key={s} idx={i} />
        ))}
      </svg>
    </div>
  );
}
